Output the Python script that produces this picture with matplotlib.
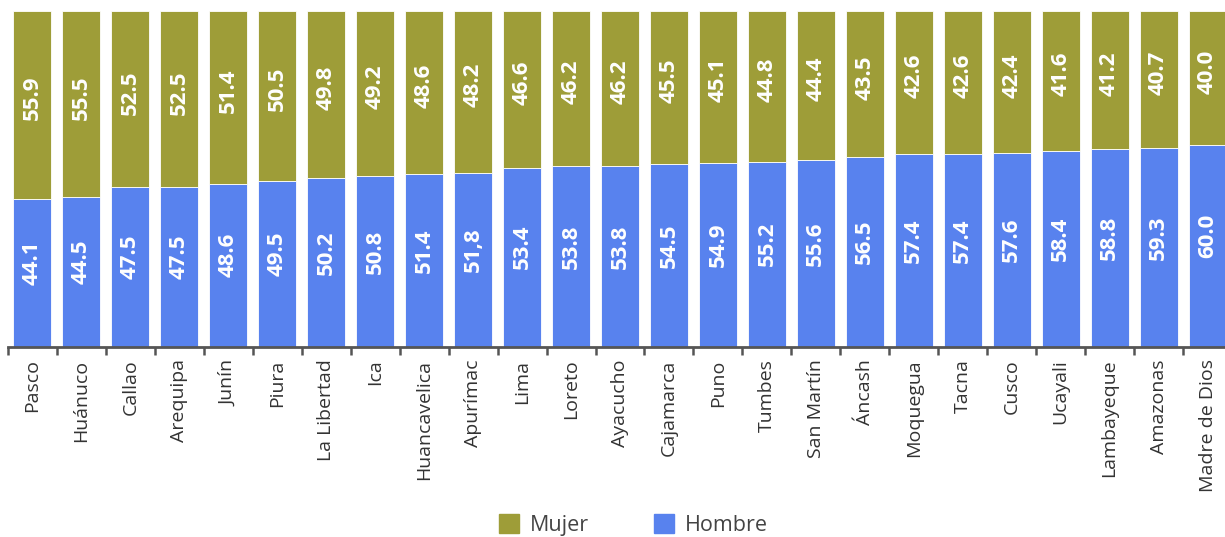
import matplotlib
matplotlib.use("Agg")
import matplotlib.pyplot as plt
from matplotlib.patches import Rectangle

plt.rcParams['font.family'] = ['Open Sans', 'DejaVu Sans']

regions = ['Pasco', 'Huánuco', 'Callao', 'Arequipa', 'Junín', 'Piura', 'La Libertad',
           'Ica', 'Huancavelica', 'Apurímac', 'Lima', 'Loreto', 'Ayacucho', 'Cajamarca',
           'Puno', 'Tumbes', 'San Martín', 'Áncash', 'Moquegua', 'Tacna', 'Cusco',
           'Ucayali', 'Lambayeque', 'Amazonas', 'Madre de Dios']
hombre = [44.1, 44.5, 47.5, 47.5, 48.6, 49.5, 50.2, 50.8, 51.4, 51.8, 53.4, 53.8, 53.8,
          54.5, 54.9, 55.2, 55.6, 56.5, 57.4, 57.4, 57.6, 58.4, 58.8, 59.3, 60.0]
mujer = [55.9, 55.5, 52.5, 52.5, 51.4, 50.5, 49.8, 49.2, 48.6, 48.2, 46.6, 46.2, 46.2,
         45.5, 45.1, 44.8, 44.4, 43.5, 42.6, 42.6, 42.4, 41.6, 41.2, 40.7, 40.0]
hombre_labels = ['44.1', '44.5', '47.5', '47.5', '48.6', '49.5', '50.2', '50.8', '51.4',
                 '51,8', '53.4', '53.8', '53.8', '54.5', '54.9', '55.2', '55.6', '56.5',
                 '57.4', '57.4', '57.6', '58.4', '58.8', '59.3', '60.0']
mujer_labels = ['%.1f' % v for v in mujer]

c_hombre = '#5882ee'
c_mujer = '#9e9d38'

fig = plt.figure(figsize=(12.25, 5.37), dpi=100)
ax = fig.add_axes([8 / 1225, 1 - 347 / 537, 1224 / 1225, (347 - 11) / 537])

x = list(range(len(regions)))
w = 0.776
ax.bar(x, hombre, width=w, color=c_hombre, edgecolor='white', linewidth=0.6)
ax.bar(x, mujer, width=w, bottom=hombre, color=c_mujer, edgecolor='white', linewidth=0.6)

for i in x:
    ax.text(i, hombre[i] / 2 + 3, hombre_labels[i], rotation=90, ha='center', va='center',
            color='white', fontsize=16, fontweight='bold')
    ax.text(i, hombre[i] + mujer[i] / 2 + 2, mujer_labels[i], rotation=90, ha='center',
            va='center', color='white', fontsize=16, fontweight='bold')

ax.set_xlim(-0.5, len(regions) - 0.5)
ax.set_ylim(0, 100)
ax.set_xticks(x)
ax.set_xticklabels(regions, rotation=90, fontsize=14, color='#333333')
ax.set_xticks([i - 0.5 for i in range(len(regions) + 1)], minor=True)
ax.tick_params(axis='x', which='major', length=0, pad=9)
ax.tick_params(axis='x', which='minor', length=6, width=1.8, color='#555555')
ax.set_yticks([])
for s in ['top', 'right', 'left']:
    ax.spines[s].set_visible(False)
ax.spines['bottom'].set_color('#555555')
ax.spines['bottom'].set_linewidth(2)

handles = [Rectangle((0, 0), 1, 1, color=c_mujer), Rectangle((0, 0), 1, 1, color=c_hombre)]
leg = fig.legend(handles, ['Mujer', 'Hombre'], loc='center', bbox_to_anchor=(0.517, 1 - 525 / 537),
                 ncol=2, frameon=False, fontsize=15.5, handlelength=0.95, handleheight=0.95,
                 columnspacing=3.0, handletextpad=0.5)
for t in leg.get_texts():
    t.set_color('#444444')

fig.savefig('out.png', dpi=100)
